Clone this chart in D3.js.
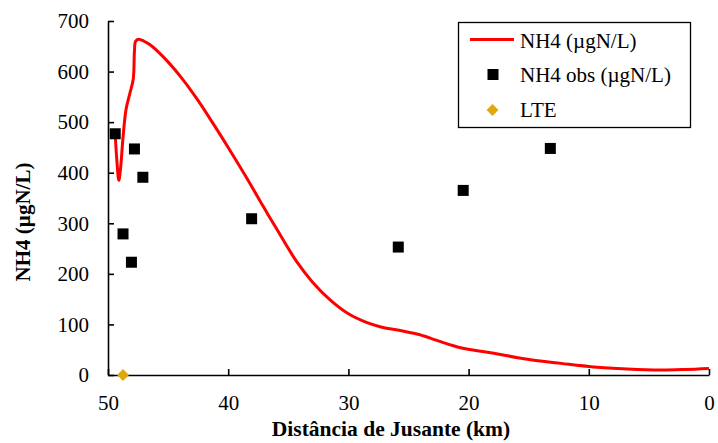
<!DOCTYPE html>
<html>
<head>
<meta charset="utf-8">
<script src="https://cdn.jsdelivr.net/npm/d3@7"></script>
<style>
  body { margin: 0; background: #fff; }
  text { font-family: "Liberation Serif", "Times New Roman", serif; }
</style>
</head>
<body>
<div id="chart"></div>
<script>
// Dimensões do svg
const width = 718;
const height = 443;
const margin = { top: 21, right: 9, bottom: 68, left: 108 };

// Curva simulada: distância (km) e NH4 (µgN/L)
const simKm = [49.4, 49.25, 49.1, 48.95, 48.75, 48.5, 48.2, 47.9, 47.8, 47.7, 47.45, 47.0, 46.5, 45.4,
  44.0, 42.6, 41.25, 39.85, 38.47, 37.1, 36.0, 34.3, 33.0, 31.5, 30.0, 28.5, 27.3, 25.5, 24.3, 23.2, 22.1,
  21.0, 19.8, 17.9, 15.1, 12.3, 9.6, 6.8, 4.0, 2.0, 0];
const simNH4 = [475, 420, 385, 410, 470, 525, 555, 585, 640, 660, 664, 660, 653, 629,
  591, 546, 497, 444, 390, 334, 290, 224, 184, 148, 121, 104, 95, 87, 81, 73, 64,
  56, 50, 43, 31, 23, 16, 12, 10, 11, 13];

// Observações
const obsKm = [49.4, 48.75, 48.05, 47.8, 47.1, 38.05, 25.85, 20.45, 13.2];
const obsNH4 = [477, 279, 223, 447, 391, 309, 253, 365, 448];

// LTE
const lteKm = [48.75];
const lteVal = [0];

const xTicks = [50, 40, 30, 20, 10, 0];
const yTicks = [0, 100, 200, 300, 400, 500, 600, 700];

const svg = d3.select("#chart").append("svg")
  .attr("width", width)
  .attr("height", height);

const x = d3.scaleLinear().domain([50, 0]).range([margin.left, width - margin.right]);
const y = d3.scaleLinear().domain([0, 700]).range([height - margin.bottom, margin.top]);

// Eixo Y
const gy = svg.append("g")
  .attr("transform", `translate(${margin.left},0)`)
  .call(d3.axisLeft(y).tickValues(yTicks).tickSizeInner(-6).tickSizeOuter(0).tickPadding(19));

// Eixo X
const gx = svg.append("g")
  .attr("transform", `translate(0,${height - margin.bottom})`)
  .call(d3.axisBottom(x).tickValues(xTicks).tickSizeInner(-6).tickSizeOuter(0).tickPadding(20));

gx.attr("font-family", null).attr("font-size", null);
gy.attr("font-family", null).attr("font-size", null);
svg.selectAll(".tick text")
  .style("font-size", "21px")
  .attr("fill", "#000");

svg.selectAll(".domain, .tick line").attr("stroke", "#000").attr("stroke-width", 1.6);

// Títulos dos eixos
svg.append("text")
  .attr("x", 391)
  .attr("y", 436)
  .attr("text-anchor", "middle")
  .style("font-size", "21.5px")
  .style("font-weight", "bold")
  .text("Distância de Jusante (km)");

svg.append("text")
  .attr("transform", "translate(30,222) rotate(-90)")
  .attr("text-anchor", "middle")
  .style("font-size", "21px")
  .style("font-weight", "bold")
  .text("NH4  (µgN/L)");

// Curva
const line = d3.line()
  .x((d, i) => x(simKm[i]))
  .y(d => y(d))
  .curve(d3.curveCatmullRom.alpha(0.5));

svg.append("path")
  .datum(simNH4)
  .attr("d", line)
  .attr("fill", "none")
  .attr("stroke", "#ff0000")
  .attr("stroke-width", 3);

// Pontos observados
const sq = 11;
svg.selectAll(".obs")
  .data(obsNH4)
  .join("rect")
  .attr("class", "obs")
  .attr("x", (d, i) => x(obsKm[i]) - sq / 2)
  .attr("y", d => y(d) - sq / 2)
  .attr("width", sq)
  .attr("height", sq)
  .attr("fill", "#000");

// LTE (losango)
const diamond = d3.symbol().type(d3.symbolDiamond2).size(90);
svg.selectAll(".lte")
  .data(lteVal)
  .join("path")
  .attr("class", "lte")
  .attr("d", diamond)
  .attr("transform", (d, i) => `translate(${x(lteKm[i])},${y(d)})`)
  .attr("fill", "#e0a80e");

// Legenda
const legend = svg.append("g");
legend.append("rect")
  .attr("x", 458.5).attr("y", 22.5)
  .attr("width", 232).attr("height", 105)
  .attr("fill", "#fff").attr("stroke", "#000").attr("stroke-width", 1.3);

legend.append("line")
  .attr("x1", 470).attr("x2", 514).attr("y1", 39.5).attr("y2", 39.5)
  .attr("stroke", "#ff0000").attr("stroke-width", 3);
legend.append("rect")
  .attr("x", 493 - sq / 2).attr("y", 74.5 - sq / 2)
  .attr("width", sq).attr("height", sq).attr("fill", "#000");
legend.append("path")
  .attr("d", diamond)
  .attr("transform", "translate(492.5,110)")
  .attr("fill", "#e0a80e");

const legendLabels = ["NH4 (µgN/L)", "NH4 obs (µgN/L)", "LTE"];
legend.selectAll(".leg-text")
  .data(legendLabels)
  .join("text")
  .attr("class", "leg-text")
  .attr("x", 520)
  .attr("y", (d, i) => 47.5 + i * 34.5)
  .style("font-size", "21px")
  .text(d => d);
</script>
</body>
</html>
